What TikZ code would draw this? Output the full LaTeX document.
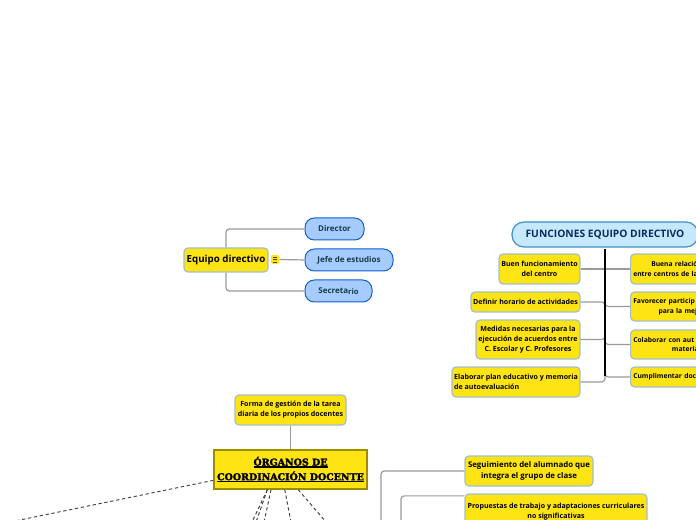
\documentclass[tikz,border=0pt]{standalone}
\usepackage{fontspec}
\setmainfont{Open Sans}
\newfontfamily\slabfont[FakeBold=2.4]{DejaVu Serif Bold}
\newcommand{\heavyline}[1]{\leavevmode\vtop{\hbox{#1}\kern0.3pt\hrule height 1.1pt}}
\definecolor{topicyellow}{HTML}{FFE414}
\definecolor{topicline}{HTML}{A3BFCC}
\definecolor{subblue}{HTML}{A6CBFF}
\definecolor{subline}{HTML}{0F5FD7}
\definecolor{subtext}{HTML}{123F4A}
\definecolor{headblue}{HTML}{C6E9FF}
\definecolor{headline}{HTML}{3E8FCB}
\definecolor{headtext}{HTML}{0B2B5E}
\definecolor{linkgray}{HTML}{9A9A9A}
\definecolor{orgline}{HTML}{A08C00}
\tikzset{every picture/.style={line width=0.75pt},
  boxsize/.style 2 args={minimum width=#1*0.75pt,minimum height=#2*0.75pt},
  topic/.style={draw=topicline,fill=topicyellow,rounded corners=3pt,line width=0.9pt,inner sep=0pt,align=center,font=\fontsize{5.3}{7.3}\selectfont\bfseries},
  cuttopic/.style={topic,anchor=west,align=left,text width=97.5pt,inner xsep=2pt,font=\fontsize{5.05}{7.3}\selectfont\bfseries},
  member/.style={draw=subline,fill=subblue,rounded corners=7pt,line width=0.75pt,inner sep=0pt,text=subtext,font=\fontsize{6}{8}\selectfont\bfseries},
  link/.style={draw=linkgray,line width=0.9pt,rounded corners=2.5pt},
  duty/.style={black!75,line width=0.7pt,dash pattern=on 2.5pt off 2pt}}

\begin{document}
\begin{tikzpicture}[x=0.75pt,y=0.75pt,yscale=-1,xscale=1]
        \useasboundingbox (0,0) rectangle (696,520);

        \node (equipo) at (226,260) [topic,boxsize={84}{24},font=\fontsize{7.3}{9}\selectfont\bfseries] {Equipo directivo};
        \node (note) at (275,259.5) [topic,boxsize={8}{9},rounded corners=1pt,draw=none,
          path picture={\draw [black!70!topicyellow,line width=0.6pt] (-2.2,-2.5) -- (2.2,-2.5) (-2.2,0) -- (2.2,0) (-2.2,2.5) -- (2.2,2.5);}] {};
        \node (director) at (334.5,229) [member,boxsize={59}{22}] {Director};
        \node (jefe) at (349,260) [member,boxsize={88}{22}] {Jefe de estudios};
        \node (secretario) at (338.5,291) [member,boxsize={67}{22}] {Secreta\raisebox{-0.5pt}{\fontsize{5.7}{6}\selectfont rio}};
        \coordinate (equipobus) at (226,260);
        \draw [link] (equipo.north -| equipobus) |- (director.west);
        \draw [link] (equipo.south -| equipobus) |- (secretario.west);
        \draw [link] (note.east) -- (jefe.west);

        \node (funciones) at (605,234.5) [draw=headline,fill=headblue,rounded corners=9pt,line width=0.9pt,boxsize={186}{25},text=headtext,inner sep=0pt,font=\fontsize{7.7}{9}\selectfont\bfseries] {FUNCIONES EQUIPO DIRECTIVO};
        \node (buen) at (539.5,269) [topic,boxsize={81}{30}] {Buen funcionamiento\\del centro};
        \node (definir) at (525.5,302) [topic,boxsize={109}{20}] {Definir horario de actividades};
        \node (medidas) at (528,339.5) [topic,boxsize={104}{39}] {Medidas necesarias para la\\ejecución de acuerdos entre\\C. Escolar y C. Profesores};
        \node (elaborar) at (516,382) [topic,boxsize={128}{30},align=left] {Elaborar plan educativo y memoria\\de autoevaluación};
        \node (relacion) at (630,269) [cuttopic,boxsize={135}{30}] {\hspace*{13.5pt}Buena relació\\entre centros de la};
        \node (favorecer) at (630,306.5) [cuttopic,boxsize={135}{29}] {Favorecer particip\\\hspace*{19pt}para la mej};
        \node (colaborar) at (630,344.5) [cuttopic,boxsize={135}{29}] {Colaborar con aut\\\hspace*{29pt}materia};
        \node (cumplimentar) at (630,377) [cuttopic,boxsize={135}{20}] {Cumplimentar doc};
        \coordinate (spinetop) at (605,249);
        \coordinate (spineend) at (605,376);
        \draw [link] (buen.east) -- (relacion.west);
        \draw [link] (definir.east) -| (spineend |- medidas.north);
        \draw [link] (medidas.east) -| (spineend |- colaborar.north);
        \draw [link] (elaborar.east) -| (spineend);
        \draw [link] (favorecer.west) -| (spineend |- buen.south);
        \draw [link] (colaborar.west) -| (spineend |- favorecer.south);
        \draw [link] (cumplimentar.west) -| (spineend |- colaborar);
        \draw [line width=0.85pt] (spinetop) -- (spineend);

        \node (forma) at (290.5,410) [topic,boxsize={111}{30}] {Forma de gestión de la tarea\\diaria de los propios docentes};
        \node (organos) at (290.5,469.5) [draw=orgline,fill=topicyellow,line width=0.9pt,boxsize={153}{39},inner sep=0pt,align=center,font=\slabfont\fontsize{7.1}{11}\selectfont] {\heavyline{ÓRGANOS DE}\\\heavyline{COORDINACIÓN DOCENTE}};
        \draw [link] (forma.south) -- (organos.north -| forma.south);

        \coordinate (dutyfar) at (10,522);
        \coordinate (dutya) at (252,522);
        \coordinate (dutyb) at (256,522);
        \coordinate (dutyc) at (264,522);
        \coordinate (dutyd) at (291,522);
        \coordinate (dutye) at (326,522);
        \draw [duty] (organos.188.5) -- (dutyfar);
        \draw [duty] (organos.221) -- (dutya);
        \draw [duty] (organos.221) -- (dutyb);
        \draw [duty] (organos.226.5) -- (dutyc);
        \draw [duty] (organos.254) -- (dutyd);
        \draw [duty] (organos.291) -- (dutye);

        \node (seguimiento) at (529,471) [topic,boxsize={128}{30},font=\fontsize{5.9}{7.6}\selectfont\bfseries] {Seguimiento del alumnado que\\integra el grupo de clase};
        \node (propuestas) at (556,512) [topic,boxsize={182}{36}] {Propuestas de trabajo y adaptaciones curriculares\\no significativas};
        \coordinate (seguimientoend) at (381,530);
        \coordinate (propuestasend) at (401,530);
        \draw [link] (seguimiento.west) -| (seguimientoend);
        \draw [link] (propuestas.170) -| (propuestasend);
\end{tikzpicture}
\end{document}
